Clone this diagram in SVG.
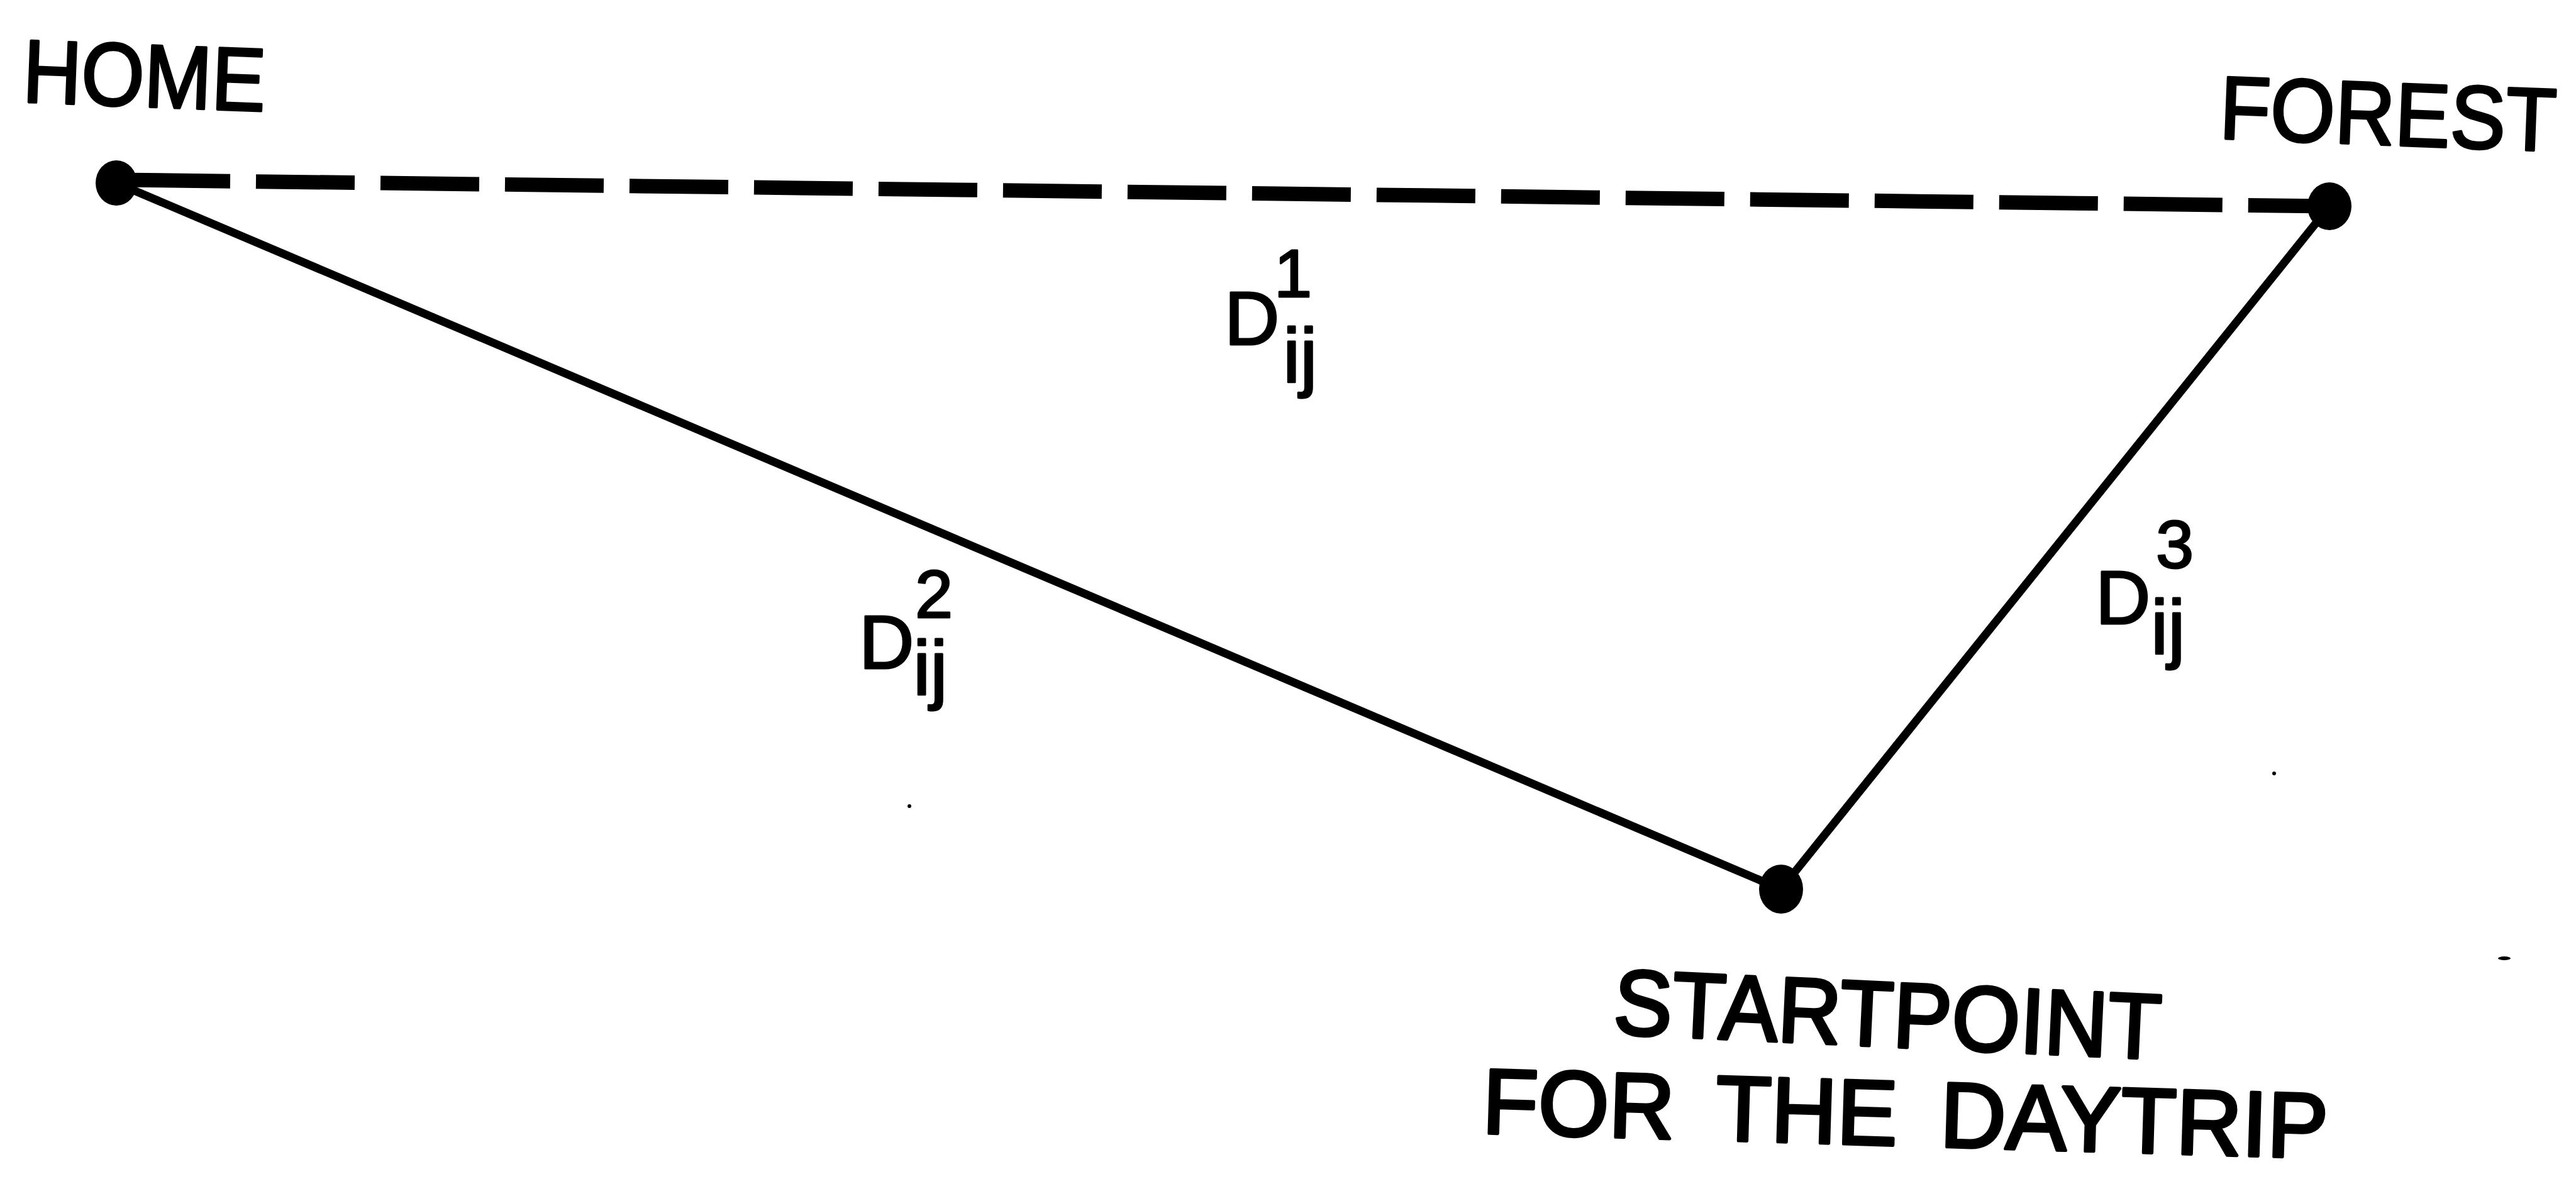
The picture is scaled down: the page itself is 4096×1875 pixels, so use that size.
<svg xmlns="http://www.w3.org/2000/svg" width="4096" height="1875" viewBox="0 0 4096 1875">
<style>
  .dot{fill:#000}
  .solid{stroke:#000;stroke-width:13;fill:none;stroke-linecap:round}
  .dash{stroke:#000;stroke-width:23;fill:none;stroke-dasharray:157 41;stroke-dashoffset:-24}
  .t{font-family:"Liberation Sans",Arial,sans-serif;fill:#000;stroke:#000;stroke-linejoin:round}
  .name{font-size:142px;stroke-width:4}
  .big{font-size:147px;stroke-width:5}
  .lbl{stroke-width:3}
  .d{font-size:121px}
  .sup{font-size:108px}
  .sub{font-size:123px}
  .speck{fill:#000}
</style>
<rect width="4096" height="1875" fill="#fff"/>
<g id="connectors">
  <line id="edge-home-forest" class="dash" x1="185" y1="286" x2="3704" y2="328"/>
  <line id="edge-home-start" class="solid" x1="185" y1="291" x2="2832" y2="1414"/>
  <line id="edge-forest-start" class="solid" x1="3704" y1="328" x2="2832" y2="1414"/>
</g>
<g id="node-home">
  <ellipse class="dot" cx="185" cy="291" rx="33" ry="36"/>
  <text class="t name" transform="translate(35,162) rotate(2.2) scale(0.906,1)">HOME</text>
</g>
<g id="node-forest">
  <ellipse class="dot" cx="3704" cy="328" rx="35" ry="38"/>
  <text class="t name" transform="translate(3528,220) rotate(2.2) scale(0.93,1)">FOREST</text>
</g>
<g id="node-start">
  <ellipse class="dot" cx="2832" cy="1414" rx="35" ry="39"/>
  <text class="t big" transform="translate(2564,1644) rotate(2.66) scale(0.95,1)">STARTPOINT</text>
  <text class="t big" transform="translate(2356,1802) rotate(1.7) scale(0.985,1)" word-spacing="28">FOR THE DAYTRIP</text>
</g>
<g id="label-d1">
  <text class="t lbl"><tspan class="d" x="1947" y="548">D</tspan><tspan class="sup" x="2026" y="472">1</tspan><tspan class="sub" x="2040" y="608">ij</tspan></text>
</g>
<g id="label-d2">
  <text class="t lbl"><tspan class="d" x="1366" y="1063">D</tspan><tspan class="sup" x="1455" y="982">2</tspan><tspan class="sub" x="1452" y="1105">ij</tspan></text>
</g>
<g id="label-d3">
  <text class="t lbl"><tspan class="d" x="3332" y="992">D</tspan><tspan class="sup" x="3428" y="903">3</tspan><tspan class="sub" x="3420" y="1040">ij</tspan></text>
</g>
<g id="specks">
  <circle class="speck" cx="1446" cy="1282" r="3"/>
  <circle class="speck" cx="3616" cy="1230" r="3"/>
  <ellipse class="speck" cx="3982" cy="1524" rx="10" ry="3"/>
</g>
</svg>
